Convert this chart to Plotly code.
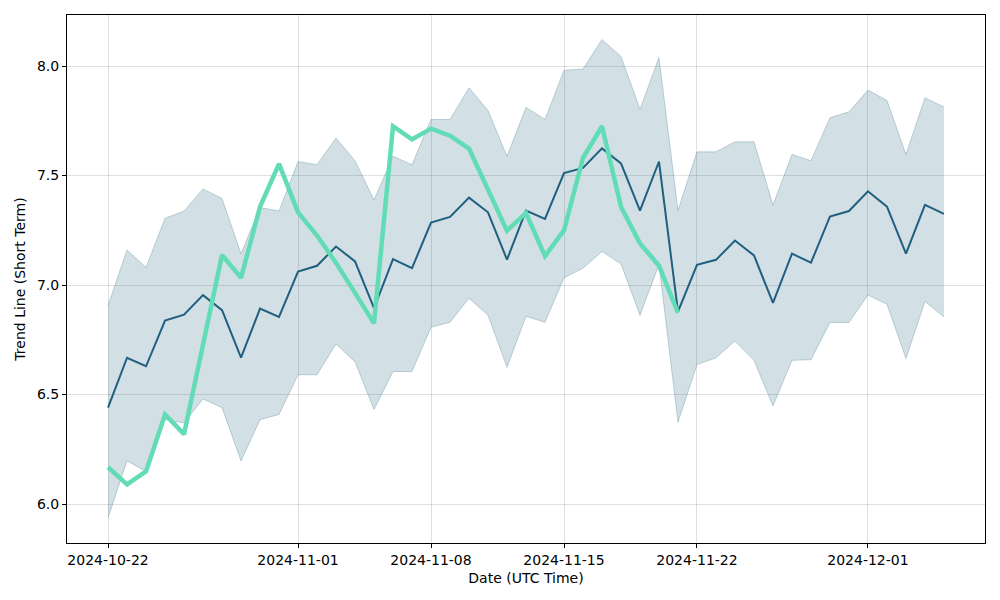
import pandas as pd
import plotly.graph_objects as go

dates = pd.date_range("2024-10-22", "2024-12-05", freq="D")

trend = [6.44, 6.668, 6.629, 6.838, 6.865, 6.954, 6.885, 6.668, 6.892, 6.854,
         7.061, 7.088, 7.176, 7.108, 6.894, 7.118, 7.077, 7.285, 7.311, 7.399,
         7.332, 7.116, 7.340, 7.302, 7.511, 7.535, 7.624, 7.555, 7.340, 7.564,
         6.878, 7.092, 7.115, 7.203, 7.135, 6.918, 7.143, 7.102, 7.313, 7.338,
         7.428, 7.358, 7.143, 7.366, 7.325]

upper = [6.907, 7.160, 7.080, 7.305, 7.338, 7.439, 7.395, 7.143, 7.354, 7.338,
         7.564, 7.549, 7.671, 7.568, 7.388, 7.588, 7.549, 7.756, 7.756, 7.901,
         7.797, 7.588, 7.811, 7.756, 7.981, 7.986, 8.121, 8.044, 7.803, 8.039,
         7.341, 7.608, 7.608, 7.654, 7.654, 7.365, 7.596, 7.568, 7.764, 7.791,
         7.890, 7.843, 7.596, 7.855, 7.813]

lower = [5.937, 6.197, 6.149, 6.385, 6.370, 6.480, 6.440, 6.197, 6.385, 6.409,
         6.590, 6.590, 6.731, 6.649, 6.432, 6.605, 6.605, 6.807, 6.830, 6.940,
         6.862, 6.624, 6.857, 6.830, 7.033, 7.077, 7.153, 7.096, 6.862, 7.093,
         6.373, 6.637, 6.668, 6.744, 6.656, 6.448, 6.656, 6.659, 6.829, 6.829,
         6.954, 6.912, 6.665, 6.925, 6.854]

actual = [6.168, 6.090, 6.149, 6.409, 6.319, 6.727, 7.137, 7.033, 7.357, 7.553,
          7.332, 7.226, 7.101, 6.964, 6.825, 7.725, 7.665, 7.714, 7.682, 7.623,
          7.431, 7.248, 7.329, 7.132, 7.250, 7.580, 7.725, 7.357, 7.190, 7.088,
          6.873]

tick_dates = ["2024-10-22", "2024-11-01", "2024-11-08", "2024-11-15", "2024-11-22", "2024-12-01"]

fig = go.Figure()
fig.add_trace(go.Scatter(x=dates, y=upper, mode="lines",
                         line=dict(color="rgba(31,95,127,0.25)", width=1),
                         showlegend=False, hoverinfo="skip"))
fig.add_trace(go.Scatter(x=dates, y=lower, mode="lines", fill="tonexty",
                         fillcolor="rgba(31,95,127,0.2)",
                         line=dict(color="rgba(31,95,127,0.25)", width=1),
                         showlegend=False, hoverinfo="skip"))
fig.add_trace(go.Scatter(x=dates, y=trend, mode="lines",
                         line=dict(color="#1f5f7f", width=2), showlegend=False))
fig.add_trace(go.Scatter(x=dates[:len(actual)], y=actual, mode="lines",
                         line=dict(color="#62dcb6", width=4.5), showlegend=False))

axis_style = dict(showline=True, linecolor="black", linewidth=1, mirror=True,
                  ticks="outside", ticklen=4, tickcolor="black",
                  showgrid=True, gridcolor="rgba(0,0,0,0.12)", gridwidth=1,
                  zeroline=False, automargin=False,
                  title_font=dict(size=14), tickfont=dict(size=14))

# page body adds ~8px offset, margins compensate for it
fig.update_layout(
    width=1000, height=600,
    margin=dict(l=59, r=23, t=7, b=65),
    plot_bgcolor="white", paper_bgcolor="white",
    font=dict(family="DejaVu Sans", color="black", size=14),
    xaxis=dict(axis_style, title=dict(text="Date (UTC Time)", standoff=6),
               range=["2024-10-19 20:10", "2024-12-07 03:50"],
               tickvals=tick_dates, tickformat="%Y-%m-%d"),
    yaxis=dict(axis_style, title=dict(text="Trend Line (Short Term)", standoff=8),
               range=[5.822, 8.233], tickvals=[6.0, 6.5, 7.0, 7.5, 8.0],
               tickformat=".1f"),
)

fig.write_html("out.html")
